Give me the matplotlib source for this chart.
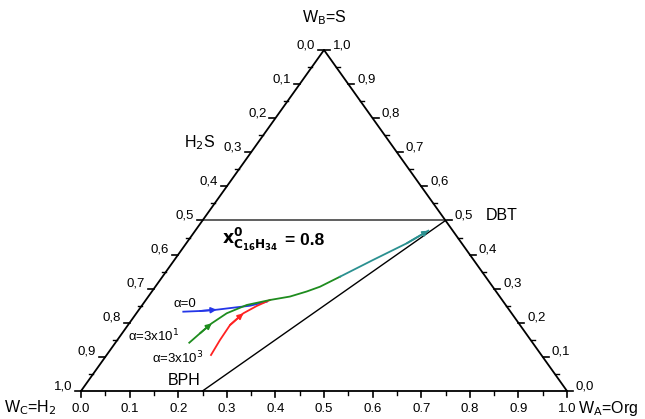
import matplotlib
matplotlib.use("Agg")
import matplotlib.pyplot as plt
import numpy as np

plt.rcParams['font.family'] = ['Liberation Sans', 'DejaVu Sans']

# composicoes: W_A (Org) e W_B (S)
blue_wa = [0.0942, 0.1276, 0.1600, 0.1912, 0.2227, 0.2512]
blue_wb = [0.2326, 0.2346, 0.2384, 0.2443, 0.2501, 0.2619]
green_wa = [0.1520, 0.1603, 0.1697, 0.1859, 0.2148, 0.2555, 0.2915, 0.3185,
            0.3389, 0.3653, 0.4087, 0.4537, 0.4796]
green_wb = [0.1416, 0.1692, 0.1985, 0.2279, 0.2522, 0.2669, 0.2770, 0.2918,
            0.3059, 0.3352, 0.3842, 0.4331, 0.4701]
red_wa = [0.2147, 0.2112, 0.2099, 0.2201, 0.2369, 0.2555]
red_wb = [0.1056, 0.1496, 0.1935, 0.2279, 0.2493, 0.2669]
teal_from = 9  # ponto onde a curva comum muda para ciano

ticks = np.round(np.arange(0, 1.01, 0.1), 1)
minor = np.round(np.arange(0.05, 1.0, 0.1), 2)


def xy(wa, wb):
    wa = np.asarray(wa)
    wb = np.asarray(wb)
    return wa + wb / 2, wb


fig = plt.figure(figsize=(6.45, 4.19), dpi=100)
ax = fig.add_axes([0, 0, 1, 1])
ax.set_xlim(-81 / 486, 564 / 486)
ax.set_ylim(-28 / 341, 391 / 341)
ax.axis('off')

px = 1 / 486
py = 1 / 341
fs = 9.5

# triangulo
ax.plot([0, 1, 0.5, 0], [0, 0, 1, 0], color='black', lw=1.3, zorder=3)

# eixo inferior
for t in ticks:
    ax.plot([t, t], [0, -6 * py], color='black', lw=1.2)
    ax.text(t, -18 * py, f"{t:.1f}", ha='center', va='center', fontsize=fs)
for t in minor:
    ax.plot([t, t], [0, -4 * py], color='black', lw=1.0)

# eixo esquerdo (W_C)
for t in ticks:
    x0, y0 = t / 2, t
    ax.plot([x0, x0 - 6 * px], [y0, y0], color='black', lw=1.2)
    ax.text(x0 - 9 * px, y0 + 5 * py, f"{1 - t:.1f}".replace('.', ','),
            ha='right', va='center', fontsize=fs)
for t in minor:
    x0, y0 = t / 2, t
    ax.plot([x0, x0 - 4 * px], [y0, y0], color='black', lw=1.0)

# eixo direito (W_B)
for t in ticks:
    x0, y0 = 1 - t / 2, t
    ax.plot([x0, x0 + 6 * px], [y0, y0], color='black', lw=1.2)
    ax.text(x0 + 9 * px, y0 + 5 * py, f"{t:.1f}".replace('.', ','),
            ha='left', va='center', fontsize=fs)
for t in minor:
    x0, y0 = 1 - t / 2, t
    ax.plot([x0, x0 + 4 * px], [y0, y0], color='black', lw=1.0)

# linhas de referencia
ax.plot([0.25, 0.75], [0.5, 0.5], color='#444444', lw=1.2)
ax.plot([0.25, 0.75], [0, 0.5], color='black', lw=1.0)


# curvas
def curve(wa, wb, color, arrow_at):
    x, y = xy(wa, wb)
    ax.plot(x, y, color=color, lw=1.3, zorder=4)
    i = arrow_at
    ax.annotate('', xy=(x[i + 1], y[i + 1]), xytext=(x[i], y[i]),
                arrowprops=dict(arrowstyle='-|>', color=color, lw=1.3,
                                mutation_scale=8, shrinkA=0, shrinkB=0),
                zorder=5)


curve(blue_wa, blue_wb, '#2436e8', 1)
curve(red_wa, red_wb, '#ff2222', 2)
curve(green_wa[:teal_from + 1], green_wb[:teal_from + 1], '#1e8c1e', 1)
curve(green_wa[teal_from:], green_wb[teal_from:], '#2a9090', 2)

# textos
ax.text(0.5, 1 + 32 * py, r'W$_\mathrm{B}$=S', ha='center', va='center', fontsize=11.5)
ax.text(-77 * px, -17 * py, r'W$_\mathrm{C}$=H$_\mathrm{2}$', ha='left', va='center', fontsize=11.5)
ax.text(1 + 11 * px, -17 * py, r'W$_\mathrm{A}$=Org', ha='left', va='center', fontsize=11.5)
ax.text(0.75 + 40 * px, 0.5 + 5 * py, 'DBT', ha='left', va='center', fontsize=11.5)
ax.text(0.25 - 2 * px, 11 * py, 'BPH', ha='right', va='center', fontsize=11.5)
ax.text(0.35 - 36 * px, 0.7 + 10 * py, r'H$_\mathrm{2}$S', ha='right', va='center', fontsize=11.5)
ax.text(141 * px, 0.44 + 2 * py, r'$\mathbf{x^0_{C_{16}H_{34}}}$', ha='left', va='center',
        fontsize=12.5)
ax.text(204 * px, 0.44, '= 0.8', ha='left', va='center', fontsize=12.5, fontweight='bold')
ax.text(0.190, 0.255, 'α=0', ha='left', va='center', fontsize=fs)
ax.text(0.097, 0.160, r'α=3x10$^\mathrm{1}$', ha='left', va='center', fontsize=fs)
ax.text(0.147, 0.096, r'α=3x10$^\mathrm{3}$', ha='left', va='center', fontsize=fs)

fig.savefig('out.png', dpi=100)
